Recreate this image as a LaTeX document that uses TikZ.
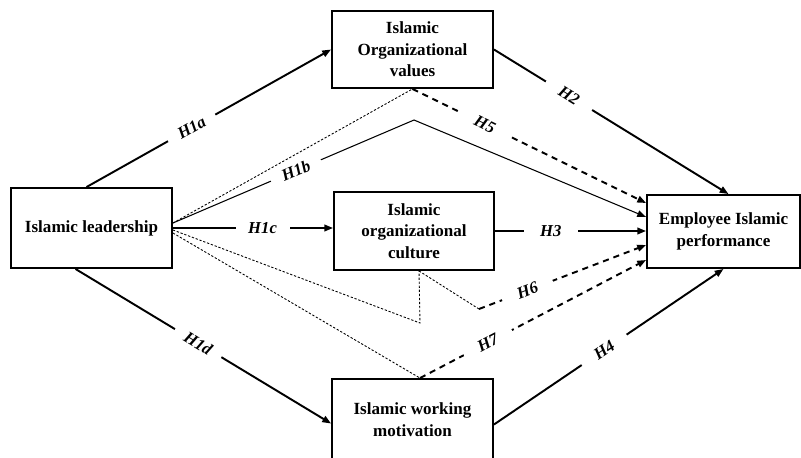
\documentclass[tikz,border=0pt]{standalone}
\usepackage{fontspec}
\setmainfont{Liberation Serif}
\usetikzlibrary{arrows.meta,calc}

\begin{document}
\begin{tikzpicture}[x=0.02cm,y=-0.02cm,>={Triangle[length=5pt,width=3.8pt]}]
    \tikzstyle{box}=[draw,line width=1.1pt,align=center,inner sep=0pt,font=\fontsize{9.7}{12.3}\selectfont\bfseries];
    \tikzstyle{hyp}=[fill=white,sloped,minimum width=1.08cm,inner xsep=0pt,inner ysep=1pt,font=\fontsize{9.5}{11}\selectfont\bfseries\itshape];
    \tikzstyle{direct}=[->,line width=1.1pt];
    \tikzstyle{thinline}=[->,line width=0.6pt];
    \tikzstyle{dots}=[line width=0.5pt,dash pattern=on 1.3pt off 1pt];
    \tikzstyle{medi}=[->,line width=1.1pt,dash pattern=on 3.5pt off 2.8pt];
    \useasboundingbox (0,0) rectangle (801,457);

    \node[box,minimum width=3.22cm,minimum height=1.6cm] at (91.5,228) (lead) {Islamic leadership};
    \node[box,minimum width=3.22cm,minimum height=1.54cm] at (412.5,49.5) (val) {Islamic\\Organizational\\values};
    \node[box,minimum width=3.2cm,minimum height=1.56cm] at (414,231) (cul) {Islamic\\organizational\\culture};
    \node[box,minimum width=3.22cm,minimum height=1.62cm] at (412.5,419.5) (mot) {Islamic working\\motivation};
    \node[box,minimum width=3.06cm,minimum height=1.46cm] at (723.5,231.5) (emp) {Employee Islamic\\performance};

    \coordinate (kb) at (414,120);
    \coordinate (kc) at (420,323);
    \coordinate (kd) at (479,309);
    \coordinate (cb) at ($(cul.south)+(5,0)$);
    \coordinate (mt) at ($(mot.north)+(7.5,0)$);

    \draw[direct] ($(lead.north)+(-5,0)$) -- node[hyp,pos=0.43]{H1a} (val.west);
    \draw[thinline] ($(lead.east)+(0,-5)$) -- node[hyp,pos=0.51]{H1b} (kb) -- ($(emp.west)+(0,-14.5)$);
    \draw[dots] ($(lead.east)+(0,-5)$) -- (val.south);
    \draw[medi] (val.south) -- node[hyp,pos=0.31]{H5} ($(emp.west)+(0,-28.5)$);
    \draw[direct] (lead.east) -- node[hyp,pos=0.56]{H1c} (lead.east -| cul.west);
    \draw[direct] (cul.east) -- node[hyp,pos=0.37]{H3} (cul.east -| emp.west);
    \draw[dots] ($(lead.east)+(0,2)$) -- (kc) -- (cb);
    \draw[dots] (cb) -- (kd);
    \draw[medi] (kd) -- node[hyp,pos=0.29]{H6} ($(emp.west)+(0,13.5)$);
    \draw[dots] ($(lead.east)+(0,5)$) -- (mt);
    \draw[medi] (mt) -- node[hyp,pos=0.3]{H7} ($(emp.west)+(0,28.5)$);
    \draw[direct] ($(lead.south)+(-16,0)$) -- node[hyp,pos=0.48]{H1d} ($(mot.west)+(0,4)$);
    \draw[direct] (val.east) -- node[hyp,pos=0.32]{H2} ($(emp.north)+(5,0)$);
    \draw[direct] ($(mot.east)+(0,5)$) -- node[hyp,pos=0.48]{H4} (emp.south);
\end{tikzpicture}
\end{document}
